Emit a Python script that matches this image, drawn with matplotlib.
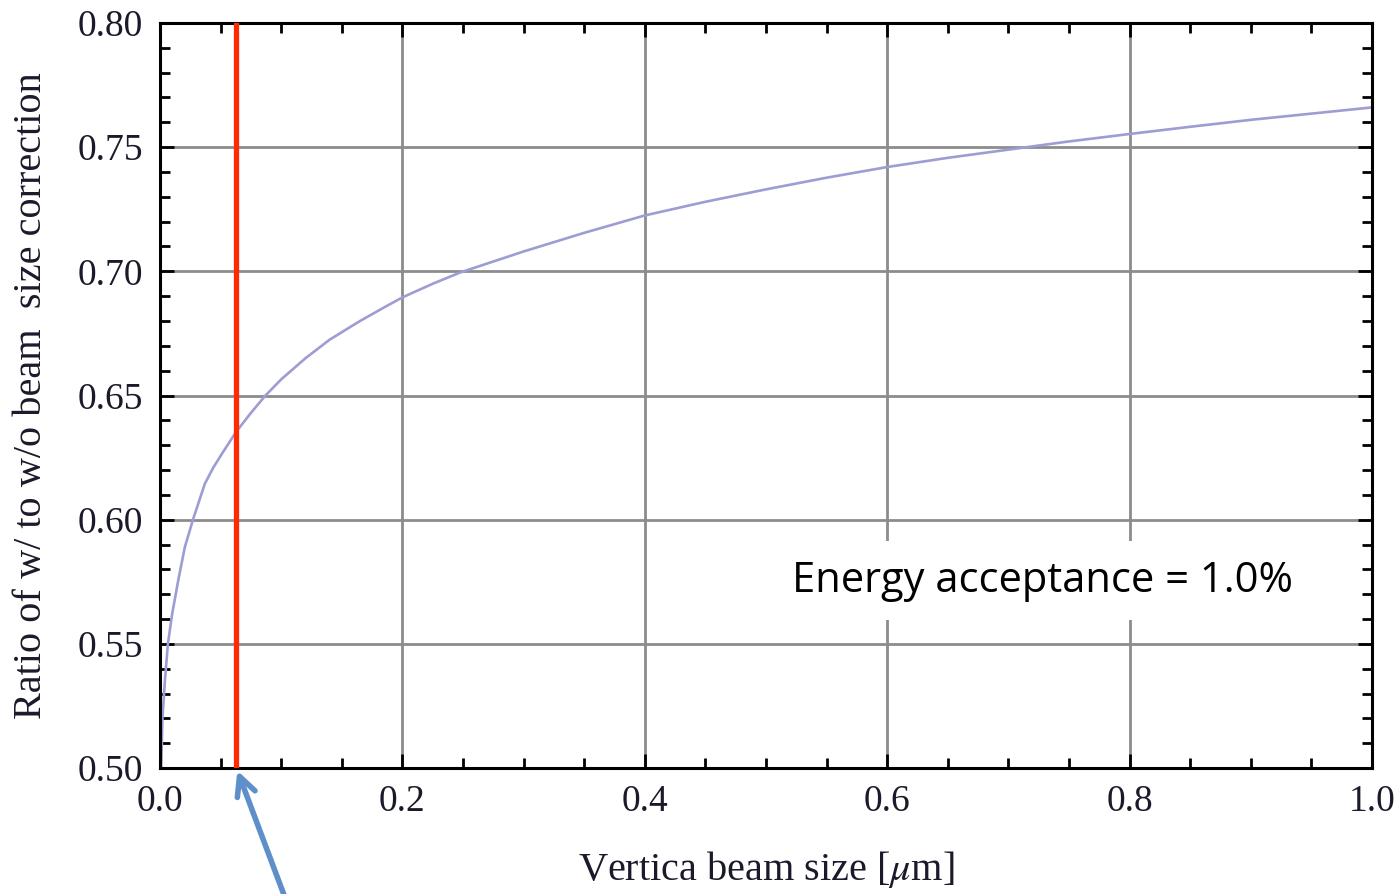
import matplotlib
matplotlib.use("Agg")
import matplotlib.pyplot as plt
from matplotlib.ticker import MultipleLocator

# Ratio of luminosity with / without beam-size correction vs vertical beam size
beam_size_um = [0.001, 0.002, 0.004, 0.0065, 0.010, 0.015, 0.0205, 0.0275,
                0.037, 0.044, 0.051, 0.063, 0.075, 0.087, 0.10, 0.12,
                0.14, 0.165, 0.185, 0.20, 0.225, 0.2475, 0.30, 0.35,
                0.40, 0.45, 0.50, 0.55, 0.60, 0.65, 0.70, 0.75,
                0.80, 0.85, 0.90, 0.95, 1.00]
ratio = [0.500, 0.520, 0.535, 0.550, 0.562, 0.5755, 0.589, 0.6005,
         0.6145, 0.621, 0.6265, 0.6355, 0.643, 0.650, 0.6565, 0.665,
         0.6725, 0.680, 0.6855, 0.6895, 0.695, 0.6995, 0.708, 0.7155,
         0.7225, 0.728, 0.733, 0.7377, 0.742, 0.7457, 0.749, 0.7523,
         0.7553, 0.7582, 0.761, 0.7635, 0.766]

design_size_um = 0.063
annotation_text = "Energy acceptance = 1.0%"
x_label = r"Vertica beam size [$\mu$m]"
y_label = "Ratio of w/ to w/o beam  size correction"
x_ticks = [0.0, 0.2, 0.4, 0.6, 0.8, 1.0]
x_ticklabels = ["0.0", "0.2", "0.4", "0.6", "0.8", "1.0"]
y_ticks = [0.50, 0.55, 0.60, 0.65, 0.70, 0.75, 0.80]
y_ticklabels = ["0.50", "0.55", "0.60", "0.65", "0.70", "0.75", "0.80"]

plt.rcParams["mathtext.fontset"] = "stix"
serif = ["Liberation Serif", "DejaVu Serif"]
ink = "#1a1a2a"

fig = plt.figure(figsize=(14, 8.94), dpi=100)
ax = fig.add_axes([0.1143, 0.1409, 0.8657, 0.8334])

ax.set_xlim(0, 1.0)
ax.set_ylim(0.50, 0.80)

ax.grid(True, which="major", color="#8c8c8c", lw=2.0, zorder=0)
ax.set_axisbelow(True)

ax.plot(beam_size_um, ratio, color="#9d9dd4", lw=1.9, zorder=2,
        solid_joinstyle="round")
ax.axvline(design_size_um, color="#ff2a00", lw=3.8, zorder=3)

ax.set_xticks(x_ticks)
ax.set_xticklabels(x_ticklabels, family=serif, fontsize=27, color=ink)
ax.set_yticks(y_ticks)
ax.set_yticklabels(y_ticklabels, family=serif, fontsize=27, color=ink)
ax.xaxis.set_minor_locator(MultipleLocator(0.05))
ax.yaxis.set_minor_locator(MultipleLocator(0.01))
ax.tick_params(which="both", direction="in", top=True, right=True,
               width=2.0, color="black")
ax.tick_params(which="major", length=10)
ax.tick_params(which="minor", length=7)
ax.tick_params(axis="x", which="major", pad=12)
ax.tick_params(axis="y", which="major", pad=12)

for sp in ax.spines.values():
    sp.set_linewidth(2.2)
    sp.set_color("black")

ax.set_xlabel(x_label, family=serif, fontsize=29, color=ink)
ax.xaxis.set_label_coords(0.5, -0.108)
ax.xaxis.label.set_va("top")
ax.set_ylabel(y_label, family=serif, fontsize=29, color=ink)
ax.yaxis.set_label_coords(-0.106, 0.5)
ax.yaxis.label.set_va("center")

ax.text(0.728, 0.5755, annotation_text, family=["Open Sans", "DejaVu Sans"],
        fontsize=30, color="black", ha="center", va="center", zorder=5,
        bbox=dict(boxstyle="square,pad=0.45", fc="white", ec="none"))

ax.annotate("", xy=(design_size_um, 0.50), xycoords="data",
            xytext=(287 / 1400, -0.01), textcoords="figure fraction",
            arrowprops=dict(arrowstyle="->", lw=4, color="#5f8fc8",
                            mutation_scale=34),
            annotation_clip=False, zorder=6)

fig.savefig("out.png", dpi=100)
